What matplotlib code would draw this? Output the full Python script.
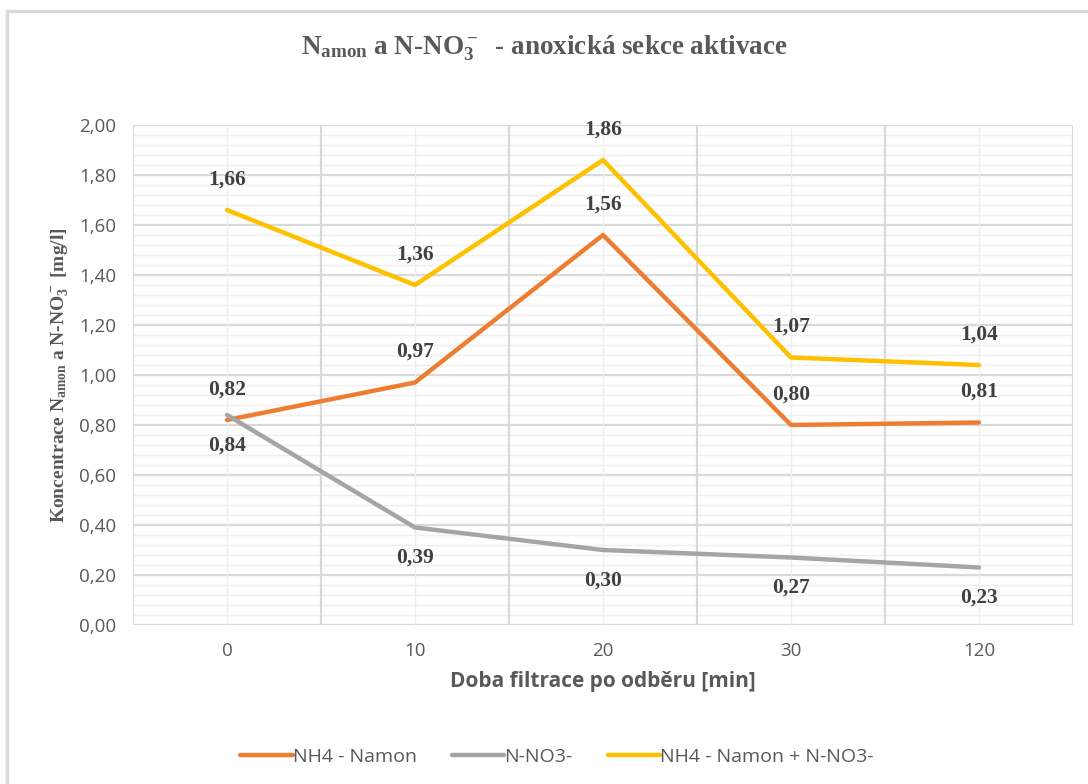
import matplotlib.pyplot as plt
from matplotlib.patches import Rectangle
from matplotlib.ticker import MultipleLocator

# data
categories = ['0', '10', '20', '30', '120']
nh4 = [0.82, 0.97, 1.56, 0.80, 0.81]
no3 = [0.84, 0.39, 0.30, 0.27, 0.23]
total = [1.66, 1.36, 1.86, 1.07, 1.04]
series_names = ['NH4 - Namon', 'N-NO3-', 'NH4 - Namon + N-NO3-']

plt.rcParams['mathtext.fontset'] = 'custom'
plt.rcParams['mathtext.rm'] = 'Liberation Serif:bold'
plt.rcParams['mathtext.it'] = 'Liberation Serif:bold'
plt.rcParams['mathtext.bf'] = 'Liberation Serif:bold'

W, H = 1088, 784
fig = plt.figure(figsize=(W / 100, H / 100), dpi=100)
ax = fig.add_axes([133 / W, 1 - 625 / H, (1073 - 133) / W, (625 - 125) / H])

# chart frame (only top/left visible in the crop)
fig.patches.append(Rectangle((7 / W, -0.1), 1.2, 1 - 11 / H + 0.1, transform=fig.transFigure,
                             fill=False, edgecolor='#d9d9d9', linewidth=2.5))

x = list(range(len(categories)))

# grid: light minor lines first, category boundaries on top
ax.yaxis.set_major_locator(MultipleLocator(0.2))
ax.yaxis.set_minor_locator(MultipleLocator(0.04))
ax.grid(which='minor', axis='y', color='#efefef', lw=1.0)
ax.grid(which='major', axis='y', color='#d9d9d9', lw=1.6)
ax.set_axisbelow(True)
for i in x:
    ax.axvline(i, color='#efefef', lw=1.0, zorder=0.6)
for i in range(len(categories) + 1):
    ax.axvline(i - 0.5, color='#d9d9d9', lw=1.6, zorder=2)

ax.plot(x, nh4, color='#ED7D31', lw=3.2, solid_capstyle='round', label=series_names[0], zorder=3)
ax.plot(x, no3, color='#A5A5A5', lw=3.2, solid_capstyle='round', label=series_names[1], zorder=3)
ax.plot(x, total, color='#FFC000', lw=3.2, solid_capstyle='round', label=series_names[2], zorder=3)

lab_kw = dict(ha='center', va='center', fontsize=15.5, fontweight='bold',
              family='Liberation Serif', color='#404040', textcoords='offset points')
for i in x:
    ax.annotate(f'{nh4[i]:.2f}'.replace('.', ','), (i, nh4[i]), xytext=(0, 22), **lab_kw)
    ax.annotate(f'{no3[i]:.2f}'.replace('.', ','), (i, no3[i]), xytext=(0, -22), **lab_kw)
    ax.annotate(f'{total[i]:.2f}'.replace('.', ','), (i, total[i]), xytext=(0, 22), **lab_kw)

ax.set_xlim(-0.5, len(categories) - 0.5)
ax.set_ylim(0, 2.0)
ax.set_xticks(x)
ax.set_xticklabels(categories)
ax.set_yticks(ax.get_yticks())
ax.set_yticklabels([f'{v:.2f}'.replace('.', ',') for v in ax.get_yticks()])
ax.set_ylim(0, 2.0)

for s in ax.spines.values():
    s.set_visible(False)
ax.tick_params(which='both', length=0)
ax.tick_params(axis='both', labelsize=13.5, labelcolor='#595959', pad=12)
for t in ax.get_xticklabels() + ax.get_yticklabels():
    t.set_family('Open Sans')

ax.set_xlabel('Doba filtrace po odběru [min]', fontsize=15, fontweight='bold',
              family='Open Sans', color='#595959', labelpad=8)
ax.set_ylabel(r'Koncentrace N$_{\mathregular{amon}}$ a N-NO$_3^-$ [mg/l]', fontsize=14,
              fontweight='bold', family='Liberation Serif', color='#595959', labelpad=6)

fig.text(0.5, 1 - 48 / H, r'N$_{\mathregular{amon}}$ a N-NO$_3^-$  - anoxická sekce aktivace',
         ha='center', va='center', fontsize=19.5, fontweight='bold', family='Liberation Serif',
         color='#595959')

leg = fig.legend(loc='center', bbox_to_anchor=(557 / W, 1 - 757 / H), ncol=3, frameon=False,
                 prop={'family': 'Open Sans', 'size': 14}, handlelength=2.7, columnspacing=1.8,
                 handletextpad=0.0)
for t in leg.get_texts():
    t.set_color('#595959')

fig.savefig('out.png', dpi=100)
